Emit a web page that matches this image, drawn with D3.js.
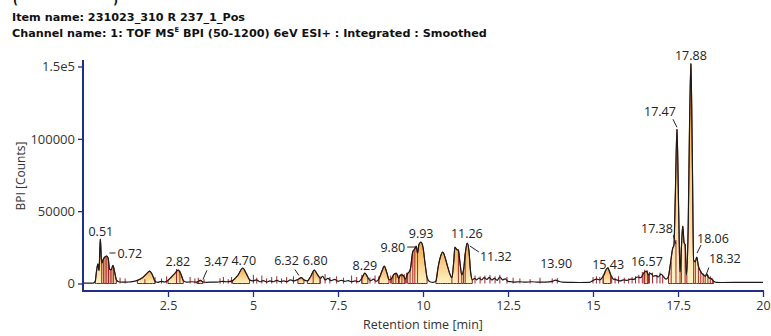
<!DOCTYPE html>
<html><head><meta charset="utf-8">
<script src="https://cdn.jsdelivr.net/npm/d3@7"></script>
<style>
body{margin:0;background:#fff;}
svg{display:block;}
</style></head>
<body>
<script>
// ---------------- DATA ----------------
const titleItem = "Item name: 231023_310 R 237_1_Pos";
const xTickValues = [2.5,5,7.5,10,12.5,15,17.5,20];
const xTickLabels = ['2.5','5','7.5','10','12.5','15','17.5','20'];
const yTickValues = [0,50000,100000,150000];
const yTickLabels = ['0','50000','100000','1.5e5'];

const traceTimes = [0.00,0.30,0.36,0.40,0.44,0.47,0.51,0.55,0.60,0.65,0.70,0.74,0.78,0.83,0.88,0.93,0.98,1.05,1.15,1.30,1.45,1.60,1.75,1.88,1.96,2.04,2.12,2.20,2.30,2.40,2.50,2.60,2.70,2.80,2.88,2.95,3.05,3.20,3.35,3.45,3.52,3.65,3.80,3.95,4.10,4.25,4.40,4.55,4.70,4.80,4.90,5.00,5.10,5.20,5.30,5.40,5.50,5.60,5.70,5.80,5.90,6.00,6.10,6.20,6.32,6.42,6.50,6.60,6.70,6.80,6.90,6.98,7.05,7.12,7.20,7.30,7.40,7.50,7.60,7.70,7.80,7.90,8.00,8.10,8.20,8.29,8.38,8.45,8.55,8.62,8.70,8.80,8.86,8.93,9.00,9.08,9.15,9.22,9.28,9.35,9.42,9.48,9.55,9.62,9.70,9.76,9.80,9.84,9.88,9.94,10.00,10.06,10.12,10.20,10.30,10.38,10.45,10.52,10.58,10.65,10.72,10.80,10.85,10.90,10.94,10.99,11.04,11.09,11.14,11.19,11.24,11.30,11.35,11.40,11.45,11.52,11.58,11.65,11.72,11.80,11.88,11.95,12.02,12.10,12.18,12.26,12.34,12.42,12.50,12.60,12.70,12.85,13.00,13.20,13.40,13.60,13.80,13.90,14.00,14.10,14.30,14.60,14.90,15.00,15.10,15.20,15.30,15.43,15.52,15.60,15.70,15.80,15.90,16.00,16.10,16.20,16.30,16.40,16.50,16.57,16.63,16.70,16.78,16.85,16.92,17.00,17.08,17.15,17.22,17.28,17.34,17.38,17.42,17.47,17.52,17.56,17.60,17.64,17.68,17.71,17.75,17.80,17.84,17.88,17.92,17.96,18.01,18.05,18.10,18.15,18.20,18.25,18.30,18.35,18.40,18.47,18.55,18.62,18.80,19.50,20.00];
const traceValues = [300,300,1500,9000,13500,9000,30700,14000,17000,18500,19000,17500,10000,9500,12500,8000,2500,1200,900,1000,1300,2200,4000,7000,8600,6000,1500,800,1500,1000,2200,4500,7000,9300,6500,2000,900,1200,900,2200,1200,800,1000,900,1500,1200,2000,5500,10700,7000,2500,1800,2500,1200,2000,1000,1800,1200,2200,1300,1800,1200,2500,1800,2800,4000,2500,1800,5000,9300,6000,3500,5000,2500,3500,2000,2800,1500,2200,1500,2000,1200,1800,1200,3500,7200,4000,2000,3000,1500,3000,9000,12000,8000,2500,3500,6500,7000,3500,6000,5500,3000,7000,9000,22000,24000,25900,21000,27000,28600,25000,14000,4000,1200,800,1500,12000,19000,21700,18000,12000,6000,4000,14000,25200,23500,23000,14000,6000,9000,20000,28000,23000,8000,2500,3500,2500,3800,2500,4000,2800,4200,2500,3500,2200,4500,2500,3200,1500,1200,1000,1200,900,1200,900,1000,1500,2400,1500,900,800,700,800,2000,3000,2500,5000,10700,6000,3000,2500,1800,2500,2200,3000,2800,4500,4000,7500,8500,6000,7000,5000,5500,4500,6500,4500,3000,5000,14000,24000,26500,60000,106600,50000,8000,25000,39700,28000,27000,6000,40000,110000,152000,90000,16000,15000,18300,12000,9000,7000,6000,5000,6500,4000,3500,1500,800,700,800,800];

// integrated peak windows (start / end retention time)
const windowStarts = [0.36,1.60,2.50,3.35,4.40,6.32,6.60,8.20,8.70,9.08,9.28,9.55,10.38,15.30,16.50,17.22];
const windowEnds   = [0.98,2.12,2.95,3.52,4.90,6.50,6.98,8.38,9.00,9.28,9.48,10.12,11.45,15.52,16.63,18.55];

// peak-marker / drop lines (time, height in counts)
const markerTimes = [0.55,0.60,0.65,0.70,0.75,0.80,0.85,0.90,1.09,1.24,1.82,2.12,2.31,2.46,2.75,2.85,3.15,3.29,3.39,3.56,4.03,4.13,4.27,4.37,5.01,5.11,5.26,5.40,5.55,5.70,5.84,5.99,6.19,6.77,6.97,7.12,7.26,7.46,7.66,7.90,8.05,8.20,8.44,8.59,8.70,9.05,9.12,9.20,9.30,9.38,9.45,9.52,9.62,9.70,9.76,9.84,10.85,11.04,11.14,11.19,11.24,11.53,11.68,11.82,11.97,12.12,12.26,12.47,12.65,12.85,13.15,13.44,13.80,13.95,15.00,15.10,15.20,15.30,15.55,15.65,15.75,15.92,16.05,16.15,16.25,16.35,16.45,16.52,16.60,16.66,16.75,16.88,16.97,17.05,17.30,17.44,17.56,17.60,17.71,17.76,17.96,18.01,18.10,18.17,18.24,18.30,18.38,18.45,18.52];
const markerHeights = [15000,17000,18500,19000,17000,10000,10000,11000,4000,3500,3000,4500,3500,5000,10000,9000,4500,3500,4000,3000,3500,4500,3000,4500,6000,4000,5500,3500,4500,5000,3500,4500,5000,8000,5000,6500,4500,5000,4000,5500,4500,6000,4000,5500,5000,5500,5000,7500,6000,7000,6500,7500,10000,22000,24500,22000,5000,23500,7000,9500,20500,5500,5000,5500,6000,5000,6000,4500,4000,3500,3000,4000,3500,3800,4500,5000,4500,6000,5000,4000,5000,4000,3500,4500,5000,6000,8000,9500,9000,8000,7500,6000,7500,6000,15000,30000,8000,25000,27000,6000,16000,15000,12000,8500,7000,6000,6000,5000,3500];

// peak labels
const peakLabels  = ['0.51','0.72','2.82','3.47','4.70','6.32','6.80','8.29','9.80','9.93','11.26','11.32','13.90','15.43','16.57','17.38','17.47','17.88','18.06','18.32'];
const peakTimes   = [0.51,0.72,2.82,3.47,4.70,6.32,6.80,8.29,9.80,9.93,11.26,11.32,13.90,15.43,16.57,17.38,17.47,17.88,18.06,18.32];
const peakHeights = [30700,19000,9300,2200,10700,2800,9300,7200,25900,28600,28000,28000,2400,10700,8500,26500,106600,152000,18300,5500];

// ---------------- LAYOUT (label offsets relative to peak apex) ----------------
const labelLayout = [
  {dx:0.5,dy:-3,a:'middle'},
  {dx:10,dy:2,a:'start',l:[2,-3,8,-3]},
  {dx:-1,dy:-4,a:'middle'},
  {dx:3,dy:-14,a:'start',l:[2,-1,6,-10]},
  {dx:1,dy:-3,a:'middle'},
  {dx:1,dy:-14,a:'end',l:[-3,-10,1,-4]},
  {dx:1,dy:-5,a:'middle'},
  {dx:0,dy:-3,a:'middle'},
  {dx:-11,dy:6,a:'end',l:[-9,1,-1,1]},
  {dx:0.5,dy:-4,a:'middle'},
  {dx:1,dy:-5,a:'middle'},
  {dx:12,dy:18,a:'start',l:[2,3,11,9]},
  {dx:0.5,dy:-12,a:'middle'},
  {dx:0.5,dy:0.5,a:'middle'},
  {dx:0.5,dy:-5,a:'middle'},
  {dx:-1,dy:-12,a:'end',l:[-0.6,-10,2,-1]},
  {dx:-17,dy:-13,a:'middle',l:[-4,-10,0,-2]},
  {dx:0,dy:-4,a:'middle'},
  {dx:0,dy:-14,a:'start',l:[0,-4,4,-12]},
  {dx:3,dy:-13,a:'start',l:[0,0,3,-8]}
];

// ---------------- DRAW ----------------
const W = 771, H = 336;
const axisColor = '#1f2d8c';
const textFont = "'Open Sans', 'Noto Sans', sans-serif";
const titleFont = "'DejaVu Sans', 'Open Sans', sans-serif";

const svg = d3.select('body').append('svg').attr('width', W).attr('height', H);

const defs = svg.append('defs');
const grad = defs.append('linearGradient').attr('id','peakFill')
  .attr('x1',0).attr('y1',0).attr('x2',0).attr('y2',1);
grad.append('stop').attr('offset','0%').attr('stop-color','#f2aa45');
grad.append('stop').attr('offset','100%').attr('stop-color','#fff1c4');

const x = d3.scaleLinear().domain([0,20]).range([83,763]);
const y = d3.scaleLinear().domain([0,150000]).range([283.5,66.5]);
const axisY = 291;

// titles
svg.append('text').attr('x',13).attr('y',4)
  .attr('font-family',titleFont).attr('font-weight','bold').attr('font-size',11)
  .attr('fill','#111').text('(');
svg.append('text').attr('x',113).attr('y',4)
  .attr('font-family',titleFont).attr('font-weight','bold').attr('font-size',11)
  .attr('fill','#111').text(')');
svg.append('text').attr('x',12).attr('y',21)
  .attr('font-family',titleFont).attr('font-weight','bold').attr('font-size',11)
  .attr('textLength',233).attr('lengthAdjust','spacingAndGlyphs')
  .attr('fill','#111').text(titleItem);
const ch = svg.append('text').attr('x',12).attr('y',37)
  .attr('font-family',titleFont).attr('font-weight','bold').attr('font-size',11)
  .attr('fill','#111');
ch.append('tspan').text('Channel name: 1: TOF MS');
ch.append('tspan').attr('font-size',6.5).attr('dy',-4.5).text('E');
ch.append('tspan').attr('dy',4.5).text(' BPI (50-1200) 6eV ESI+ : Integrated : Smoothed');
// fit channel line to reference width
const chW = ch.node().getComputedTextLength();
if (chW > 0) {
  const sx = 475 / chW;
  ch.attr('transform', `translate(12,0) scale(${sx},1) translate(-12,0)`);
}

const pts = traceTimes.map((t,i)=>[t, traceValues[i]]);

// integrated areas
const area = d3.area().x(d=>x(d[0])).y0(y(0)).y1(d=>y(d[1])).curve(d3.curveMonotoneX);
const gA = svg.append('g');
windowStarts.forEach((s,i)=>{
  const e = windowEnds[i];
  const sub = pts.filter(p=>p[0]>=s-1e-9 && p[0]<=e+1e-9);
  gA.append('path').attr('d',area(sub))
    .attr('fill','url(#peakFill)').attr('stroke','#8e1f1a').attr('stroke-width',1);
});

// markers
const gM = svg.append('g');
markerTimes.forEach((t,i)=>{
  gM.append('line').attr('x1',x(t)).attr('x2',x(t))
    .attr('y1',y(0)).attr('y2',y(markerHeights[i]))
    .attr('stroke','#a3262a').attr('stroke-width',1);
});

// trace
const line = d3.line().x(d=>x(d[0])).y(d=>y(d[1])).curve(d3.curveMonotoneX);
svg.append('path').attr('d',line(pts)).attr('fill','none')
  .attr('stroke','#1b1b1b').attr('stroke-width',1.2).attr('stroke-linejoin','round');

// axes
const gx = svg.append('g').attr('transform',`translate(0,${axisY})`);
gx.call(d3.axisBottom(x).tickValues(d3.range(0.5,20.01,0.5).filter(v=>v%2.5!==0)).tickSize(3).tickFormat(''));
gx.call(d3.axisBottom(x).tickValues(xTickValues).tickSize(6).tickPadding(4)
  .tickFormat((d,i)=>xTickLabels[i]));
gx.selectAll('.domain').remove();
gx.selectAll('line').attr('stroke',axisColor).attr('stroke-width',1.3);
gx.selectAll('text').attr('font-family',textFont).attr('font-size',12.5).attr('fill','#333');
svg.append('line').attr('x1',x(0)).attr('x2',x(20)+1).attr('y1',axisY).attr('y2',axisY)
  .attr('stroke',axisColor).attr('stroke-width',2);

const gy = svg.append('g').attr('transform',`translate(${x(0)},0)`);
gy.call(d3.axisLeft(y).tickValues(d3.range(0,150001,10000)).tickSize(3).tickFormat(''));
gy.call(d3.axisLeft(y).tickValues(yTickValues).tickSize(5).tickPadding(3)
  .tickFormat((d,i)=>yTickLabels[i]));
gy.selectAll('.domain').remove();
gy.selectAll('line').attr('stroke',axisColor).attr('stroke-width',1.3);
gy.selectAll('text').attr('font-family',textFont).attr('font-size',13).attr('fill','#333');
svg.append('line').attr('x1',x(0)).attr('x2',x(0)).attr('y1',60).attr('y2',axisY+1)
  .attr('stroke',axisColor).attr('stroke-width',2);

// axis titles
svg.append('text').attr('x',x(10)).attr('y',329).attr('text-anchor','middle')
  .attr('font-family',textFont).attr('font-size',12.5).attr('fill','#333')
  .text('Retention time [min]');
svg.append('text').attr('transform','translate(25,176) rotate(-90)').attr('text-anchor','middle')
  .attr('font-family',textFont).attr('font-size',12).attr('fill','#333')
  .text('BPI [Counts]');

// peak labels
const gL = svg.append('g');
peakLabels.forEach((lab,i)=>{
  const px = x(peakTimes[i]), py = y(peakHeights[i]);
  const L = labelLayout[i];
  gL.append('text').attr('x',px+L.dx).attr('y',py+L.dy).attr('text-anchor',L.a)
    .attr('font-family',textFont).attr('font-size',12.5).attr('fill','#222').text(lab);
  if (L.l) {
    gL.append('line').attr('x1',px+L.l[0]).attr('y1',py+L.l[1])
      .attr('x2',px+L.l[2]).attr('y2',py+L.l[3])
      .attr('stroke','#222').attr('stroke-width',1);
  }
});
</script>
</body></html>
